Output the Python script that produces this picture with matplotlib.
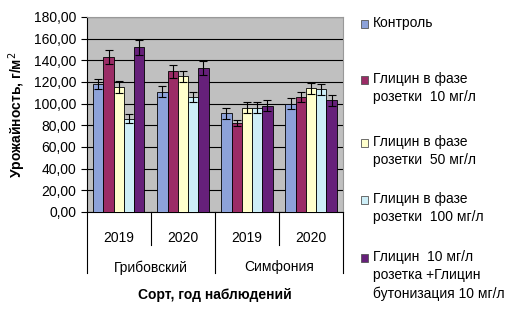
import matplotlib.pyplot as plt
import numpy as np
from matplotlib.patches import Rectangle

plt.rcParams['font.family'] = ['Liberation Sans', 'DejaVu Sans']

# данные
years = ["2019", "2020", "2019", "2020"]
sorts = ["Грибовский", "Симфония"]
series = ["Контроль",
          "Глицин в фазе\nрозетки  10 мг/л",
          "Глицин в фазе\nрозетки  50 мг/л",
          "Глицин в фазе\nрозетки  100 мг/л",
          "Глицин  10 мг/л\nрозетка +Глицин\nбутонизация 10 мг/л"]
kontrol = [118, 111, 91, 100]
gl10 = [143, 130, 82, 106]
gl50 = [115, 125, 96, 114]
gl100 = [86, 106, 96, 113]
gl_but = [152, 133, 98, 103]
err_kontrol = [5, 5, 5, 5]
err_gl10 = [6.5, 6, 3, 5]
err_gl50 = [5.5, 5, 5, 5]
err_gl100 = [4, 5, 5, 5]
err_gl_but = [7, 6.5, 5, 5]

colors = ["#8DA2D9", "#9B2C66", "#FFFFCC", "#CDEEF7", "#66207A"]
values = [kontrol, gl10, gl50, gl100, gl_but]
errs = [err_kontrol, err_gl10, err_gl50, err_gl100, err_gl_but]

fig = plt.figure(figsize=(5.23, 3.13), dpi=100)
ax = fig.add_axes([0.166, 0.323, 0.49, 0.623])
ax.set_facecolor("#C0C0C0")

x = np.arange(len(years))
w = 0.16
for i in range(5):
    ax.bar(x + (i - 2) * w, values[i], w, color=colors[i], edgecolor="black",
           linewidth=0.6, zorder=3,
           yerr=errs[i], capsize=3, error_kw=dict(elinewidth=0.8, capthick=0.8, ecolor="black"))

ax.set_ylim(0, 180)
ax.set_xlim(-0.5, 3.5)
ax.set_yticks(np.arange(0, 181, 20))
ax.set_yticklabels([f"{v:.2f}".replace(".", ",") for v in np.arange(0, 181, 20)], fontsize=10)
ax.yaxis.grid(True, color="black", linewidth=0.8, zorder=1)
ax.set_xticks(x)
ax.set_xticklabels(years, fontsize=10)
ax.tick_params(axis="x", length=0, pad=14)
ax.tick_params(axis="y", length=4, direction="out")
for s in ["top", "right"]:
    ax.spines[s].set_color("#999999")
ax.spines["bottom"].set_color("black")
ax.spines["left"].set_color("black")

tr = ax.get_xaxis_transform()
for xv in [-0.5, 1.5, 3.5]:
    ax.plot([xv, xv], [0, -0.313], color="black", lw=0.8, transform=tr, clip_on=False)
for xv in [0.5, 2.5]:
    ax.plot([xv, xv], [0, -0.17], color="black", lw=0.8, transform=tr, clip_on=False)
for j, s in enumerate(sorts):
    ax.text(0.5 + 2 * j, -0.285, s, transform=tr, ha="center", va="center", fontsize=10)

ax.set_xlabel("Сорт, год наблюдений", fontsize=10, fontweight="bold", labelpad=31)
ax.set_ylabel("Урожайность, г/м$^2$", fontsize=10, fontweight="bold", labelpad=4)

# легенда
leg_y = [24, 80, 143, 200, 258]
for name, c, yy in zip(series, colors, leg_y):
    fig.patches.append(Rectangle((361 / 523, 1 - (yy + 4) / 313), 7 / 523, 8 / 313,
                                 transform=fig.transFigure, facecolor=c,
                                 edgecolor="#555555", lw=0.6))
    fig.text(373 / 523, 1 - (yy - 8) / 313, name, fontsize=10, va="top", ha="left",
             linespacing=1.4)

fig.savefig("out.png", dpi=100)
